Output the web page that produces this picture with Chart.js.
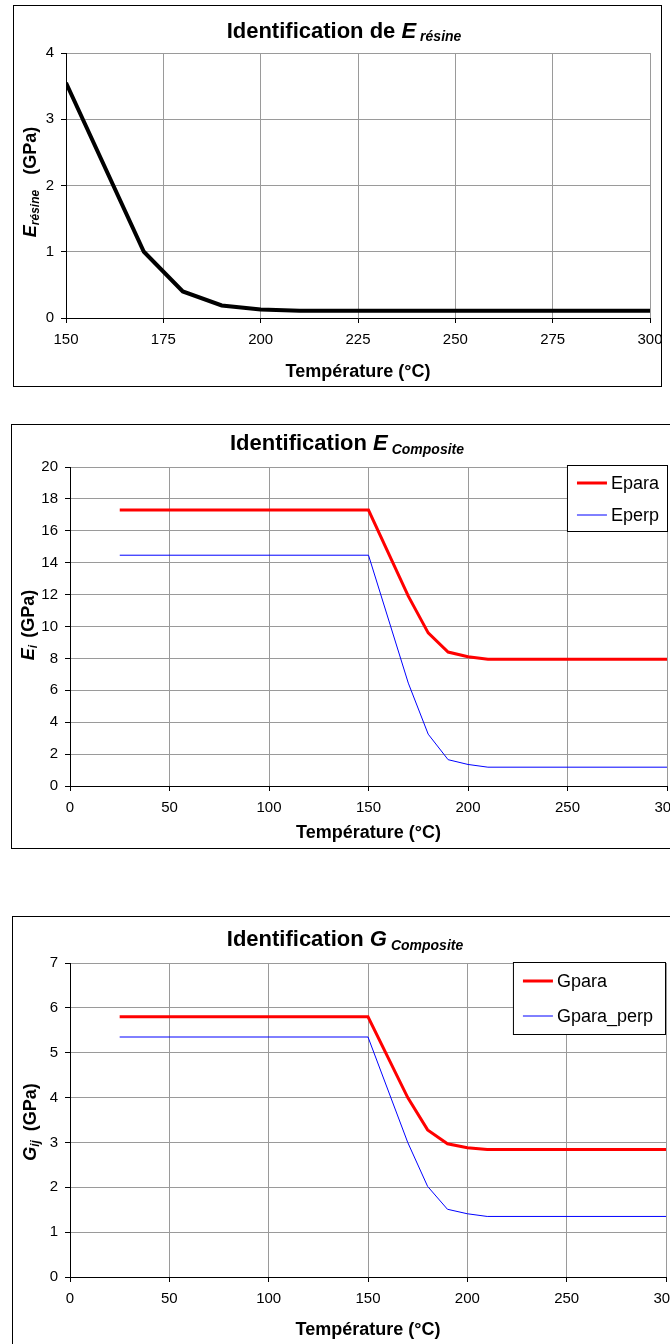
<!DOCTYPE html>
<html>
<head>
<meta charset="utf-8">
<script src="https://cdn.jsdelivr.net/npm/chart.js@4.4.1/dist/chart.umd.min.js"></script>
<style>
    html, body { margin: 0; padding: 0; background: #fff; width: 670px; height: 1344px; overflow: hidden; }
    .box { position: absolute; box-sizing: border-box; border: 1px solid #000; background: #fff; }
    .box canvas { display: block; }
</style>
</head>
<body>
<div class="box" style="left:13px;top:5px;width:649px;height:382px"><canvas id="chartResine" width="647" height="380"></canvas></div>
<div class="box" style="left:11px;top:424px;width:680px;height:425px"><canvas id="chartEComp" width="678" height="423"></canvas></div>
<div class="box" style="left:12px;top:916px;width:680px;height:440px"><canvas id="chartGComp" width="678" height="438"></canvas></div>
<script>
const resineTemps = [150, 170, 180, 190, 200, 210, 300];
const resineModule = [3.55, 1.0, 0.4, 0.19, 0.13, 0.11, 0.11];

const compTemps = [25, 150, 170, 180, 190, 200, 210, 300];
const ePara = [17.3, 17.3, 11.9, 9.6, 8.4, 8.1, 7.95, 7.95];
const ePerp = [14.47, 14.47, 6.45, 3.25, 1.65, 1.35, 1.18, 1.18];
const gPara = [5.8, 5.8, 4.0, 3.28, 2.97, 2.88, 2.84, 2.84];
const gParaPerp = [5.35, 5.35, 3.0, 2.02, 1.51, 1.41, 1.35, 1.35];

// Libellés
const xTitle = 'Température (°C)';
const seriesLabelsE = ['Epara', 'Eperp'];
const seriesLabelsG = ['Gpara', 'Gpara_perp'];

const FONT = '"Liberation Sans", Arial, sans-serif';
const GRID = '#9a9a9a';

function points(xs, ys) {
    return xs.map((x, i) => ({ x: x, y: ys[i] }));
}

// texte à styles mixtes (indices) dessiné sur le canvas
function drawParts(ctx, t) {
    ctx.save();
    ctx.translate(t.x, t.y);
    if (t.rotate) ctx.rotate(t.rotate);
    ctx.fillStyle = '#000';
    ctx.textBaseline = 'alphabetic';
    ctx.textAlign = 'left';
    let total = 0;
    const widths = t.parts.map(p => {
        ctx.font = p.font;
        const w = ctx.measureText(p.text).width;
        total += w + (p.gap || 0);
        return w;
    });
    let x = -total / 2;
    t.parts.forEach((p, i) => {
        ctx.font = p.font;
        ctx.fillText(p.text, x, t.base + (p.dy || 0));
        x += widths[i] + (p.gap || 0);
    });
    ctx.restore();
}

function richText(items) {
    return {
        id: 'richText',
        afterDraw(chart) {
            items.forEach(t => drawParts(chart.ctx, t));
        }
    };
}

// légende encadrée dans la zone du graphe
function boxLegend(cfg) {
    return {
        id: 'boxLegend',
        afterDraw(chart) {
            const ctx = chart.ctx;
            const area = chart.chartArea;
            ctx.save();
            ctx.font = '18px ' + FONT;
            let maxW = 0;
            chart.data.datasets.forEach(ds => { maxW = Math.max(maxW, ctx.measureText(ds.label).width); });
            const w = 44 + maxW + cfg.extra;
            const left = area.right + cfg.dx - w;
            const top = area.top + cfg.dy;
            ctx.fillStyle = '#fff';
            ctx.fillRect(left, top, w, cfg.height);
            ctx.strokeStyle = '#000';
            ctx.lineWidth = 1;
            ctx.strokeRect(left + 0.5, top + 0.5, w, cfg.height);
            chart.data.datasets.forEach((ds, i) => {
                const y = top + cfg.first + i * cfg.step;
                ctx.strokeStyle = ds.borderColor;
                ctx.lineWidth = ds.borderWidth;
                ctx.beginPath();
                ctx.moveTo(left + 10, y);
                ctx.lineTo(left + 40, y);
                ctx.stroke();
                ctx.fillStyle = '#000';
                ctx.textBaseline = 'middle';
                ctx.fillText(ds.label, left + 44, y + 1);
            });
            ctx.restore();
        }
    };
}

function axes(o) {
    return {
        x: {
            type: 'linear',
            min: o.xMin, max: o.xMax,
            ticks: { stepSize: o.xStep, color: '#000', padding: 8, font: { family: FONT, size: 15 } },
            grid: { color: GRID, tickColor: '#000', tickLength: 5 },
            border: { color: '#000', width: 1 },
            title: { display: true, text: xTitle, color: '#000', font: { family: FONT, size: 18, weight: 'bold' }, padding: { top: 0, bottom: o.titlePad } },
            afterFit: s => { s.height = o.xHeight; s.paddingLeft = 0; s.paddingRight = 0; }
        },
        y: {
            type: 'linear',
            min: o.yMin, max: o.yMax,
            ticks: { stepSize: o.yStep, color: '#000', padding: 7, font: { family: FONT, size: 15 } },
            grid: { color: GRID, tickColor: '#000', tickLength: 5 },
            border: { color: '#000', width: 1 },
            afterFit: s => { s.width = o.yWidth; s.paddingTop = 0; s.paddingBottom = 0; }
        }
    };
}

const common = {
    responsive: false,
    animation: false,
    devicePixelRatio: 1,
    plugins: { legend: { display: false }, tooltip: { enabled: false }, title: { display: false } },
    elements: { point: { radius: 0 }, line: { tension: 0 } }
};

// Graphe 1 : E résine
new Chart(document.getElementById('chartResine'), {
    type: 'line',
    data: {
        datasets: [{
            label: 'E résine',
            data: points(resineTemps, resineModule),
            borderColor: '#000',
            borderWidth: 4,
            fill: false
        }]
    },
    options: Object.assign({}, common, {
        layout: { padding: { top: 47, right: 11, left: 0, bottom: 0 } },
        scales: axes({ xMin: 150, xMax: 300, xStep: 25, yMin: 0, yMax: 4, yStep: 1, xHeight: 68, yWidth: 52, titlePad: 3 })
    }),
    plugins: [richText([
        { x: 330, y: 24, base: 8, parts: [
            { text: 'Identification de ', font: 'bold 22px ' + FONT },
            { text: 'E', font: 'italic bold 22px ' + FONT, gap: 4 },
            { text: 'résine', font: 'italic bold 14px ' + FONT, dy: 3 }
        ] },
        { x: 16, y: 176, base: 6, rotate: -Math.PI / 2, parts: [
            { text: 'E', font: 'italic bold 18px ' + FONT },
            { text: 'résine', font: 'italic bold 12px ' + FONT, dy: 3, gap: 15 },
            { text: '(GPa)', font: 'bold 18px ' + FONT }
        ] }
    ])]
});

// Graphe 2 : E composite
new Chart(document.getElementById('chartEComp'), {
    type: 'line',
    data: {
        datasets: [{
            label: seriesLabelsE[0],
            data: points(compTemps, ePara),
            borderColor: '#ff0000',
            borderWidth: 3,
            fill: false
        }, {
            label: seriesLabelsE[1],
            data: points(compTemps, ePerp),
            borderColor: '#0000ff',
            borderWidth: 1,
            fill: false
        }]
    },
    options: Object.assign({}, common, {
        layout: { padding: { top: 42, right: 23, left: 0, bottom: 0 } },
        scales: axes({ xMin: 0, xMax: 300, xStep: 50, yMin: 0, yMax: 20, yStep: 2, xHeight: 62, yWidth: 58, titlePad: 4 })
    }),
    plugins: [richText([
        { x: 335, y: 17, base: 8, parts: [
            { text: 'Identification ', font: 'bold 22px ' + FONT },
            { text: 'E', font: 'italic bold 22px ' + FONT, gap: 4 },
            { text: 'Composite', font: 'italic bold 14px ' + FONT, dy: 4 }
        ] },
        { x: 16, y: 200, base: 6, rotate: -Math.PI / 2, parts: [
            { text: 'E', font: 'italic bold 18px ' + FONT },
            { text: 'i', font: 'italic bold 12px ' + FONT, dy: 3, gap: 7 },
            { text: '(GPa)', font: 'bold 18px ' + FONT }
        ] }
    ]), boxLegend({ dx: 0, dy: -2, extra: 8, height: 66, first: 18, step: 32 })]
});

// Graphe 3 : G composite
new Chart(document.getElementById('chartGComp'), {
    type: 'line',
    data: {
        datasets: [{
            label: seriesLabelsG[0],
            data: points(compTemps, gPara),
            borderColor: '#ff0000',
            borderWidth: 3,
            fill: false
        }, {
            label: seriesLabelsG[1],
            data: points(compTemps, gParaPerp),
            borderColor: '#0000ff',
            borderWidth: 1,
            fill: false
        }]
    },
    options: Object.assign({}, common, {
        layout: { padding: { top: 46, right: 25, left: 0, bottom: 0 } },
        scales: axes({ xMin: 0, xMax: 300, xStep: 50, yMin: 0, yMax: 7, yStep: 1, xHeight: 78, yWidth: 57, titlePad: 14 })
    }),
    plugins: [richText([
        { x: 332, y: 21, base: 8, parts: [
            { text: 'Identification ', font: 'bold 22px ' + FONT },
            { text: 'G', font: 'italic bold 22px ' + FONT, gap: 4 },
            { text: 'Composite', font: 'italic bold 14px ' + FONT, dy: 4 }
        ] },
        { x: 17, y: 205, base: 6, rotate: -Math.PI / 2, parts: [
            { text: 'G', font: 'italic bold 18px ' + FONT },
            { text: 'ij', font: 'italic bold 12px ' + FONT, dy: 3, gap: 9 },
            { text: '(GPa)', font: 'bold 18px ' + FONT }
        ] }
    ]), boxLegend({ dx: -1, dy: -1, extra: 12, height: 72, first: 19, step: 35 })]
});
</script>
</body>
</html>
